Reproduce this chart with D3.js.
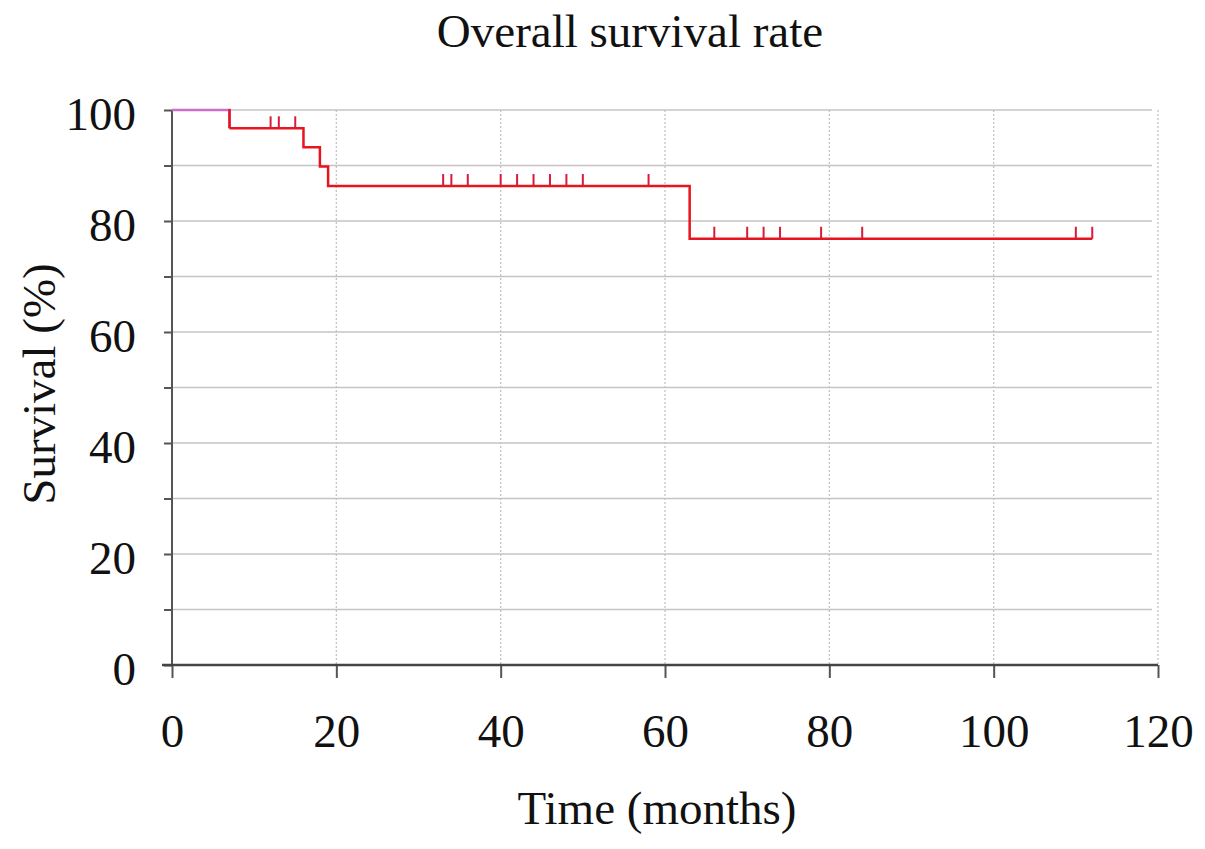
<!DOCTYPE html>
<html>
<head>
<meta charset="utf-8">
<script src="https://cdn.jsdelivr.net/npm/d3@7"></script>
<style>
  body { margin: 0; background: #fff; }
  text { font-family: "Liberation Serif", "Times New Roman", serif; fill: #111; }
</style>
</head>
<body>
<svg id="chart" width="1205" height="849"></svg>
<script>
// step curve: time where each level starts, and the survival level (%)
const stepTimes = [0, 7, 16, 18, 19, 63];
const survival = [100, 96.7, 93.3, 89.8, 86.3, 76.8];
const endTime = 112;
// censored observations (months)
const censorTimes = [12, 13, 15, 33, 34, 36, 40, 42, 44, 46, 48, 50, 58, 66, 70, 72, 74, 79, 84, 110, 112];
const xTicks = [0, 20, 40, 60, 80, 100, 120];
const yTicks = [0, 10, 20, 30, 40, 50, 60, 70, 80, 90, 100];

const svg = d3.select("svg#chart");
const mLeft = 172, mRight = 1158, mTop = 110, mBottom = 665;

const x = d3.scaleLinear().domain([0, 120]).range([mLeft, mRight]);
const y = d3.scaleLinear().domain([0, 100]).range([mBottom, mTop]);

// horizontal grid, solid
svg.append("g")
  .selectAll("line")
  .data(yTicks.filter(d => d > 0))
  .join("line")
  .attr("x1", mLeft).attr("x2", mRight - 6)
  .attr("y1", d => y(d)).attr("y2", d => y(d))
  .attr("stroke", "#c4c4c4").attr("stroke-width", 1.5);

// vertical grid, dotted
svg.append("g")
  .selectAll("line")
  .data(xTicks.filter(d => d > 0))
  .join("line")
  .attr("x1", d => x(d)).attr("x2", d => x(d))
  .attr("y1", mTop).attr("y2", mBottom)
  .attr("stroke", "#c4c4c4").attr("stroke-width", 1.3)
  .attr("stroke-dasharray", "2,2");

// axes
const yAxis = svg.append("g")
  .attr("transform", `translate(${mLeft},0)`)
  .call(d3.axisLeft(y).tickValues(yTicks).tickSize(8).tickPadding(28)
    .tickFormat(d => d % 20 === 0 ? d : ""));
const xAxis = svg.append("g")
  .attr("transform", `translate(0,${mBottom})`)
  .call(d3.axisBottom(x).tickValues(xTicks).tickSize(13).tickPadding(36));

[xAxis, yAxis].forEach(g => {
  g.select(".domain").remove();
  g.selectAll(".tick line").attr("stroke", "#555").attr("stroke-width", 2);
  g.selectAll("text").style("font-size", "47px").attr("fill", "#111");
});
yAxis.selectAll("text").attr("dy", "0.42em");

svg.append("line")
  .attr("x1", mLeft).attr("x2", mLeft).attr("y1", mTop).attr("y2", mBottom)
  .attr("stroke", "#555").attr("stroke-width", 2);
svg.append("line")
  .attr("x1", mLeft - 10).attr("x2", mRight).attr("y1", mBottom).attr("y2", mBottom)
  .attr("stroke", "#444").attr("stroke-width", 2.5);

// survival curve
const pts = stepTimes.map((t, i) => [t, survival[i]]);
pts.push([endTime, survival[survival.length - 1]]);

const line = d3.line()
  .x(d => x(d[0]))
  .y(d => y(d[1]))
  .curve(d3.curveStepAfter);

// first flat part looks pinkish in the original
svg.append("path")
  .datum(pts.slice(0, 2))
  .attr("d", line)
  .attr("fill", "none")
  .attr("stroke", "#cc6fc8")
  .attr("stroke-width", 2.5);

svg.append("line")
  .attr("x1", x(stepTimes[1])).attr("x2", x(stepTimes[1]))
  .attr("y1", y(survival[0]) - 1).attr("y2", y(survival[1]))
  .attr("stroke", "#e8141e").attr("stroke-width", 2.5);

svg.append("path")
  .datum(pts.slice(1))
  .attr("d", line)
  .attr("fill", "none")
  .attr("stroke", "#e8141e")
  .attr("stroke-width", 2.5);

function levelAt(t) {
  let v = survival[0];
  stepTimes.forEach((s, i) => { if (t >= s) v = survival[i]; });
  return v;
}

// censor marks
svg.append("g")
  .selectAll("line")
  .data(censorTimes)
  .join("line")
  .attr("x1", d => x(d)).attr("x2", d => x(d))
  .attr("y1", d => y(levelAt(d)))
  .attr("y2", d => y(levelAt(d)) - 12)
  .attr("stroke", "#d81b3a")
  .attr("stroke-width", 2);

// titles
svg.append("text")
  .attr("x", 630).attr("y", 47)
  .attr("text-anchor", "middle")
  .style("font-size", "47px")
  .text("Overall survival rate");

svg.append("text")
  .attr("x", 657).attr("y", 824)
  .attr("text-anchor", "middle")
  .style("font-size", "47px")
  .text("Time (months)");

svg.append("text")
  .attr("transform", "translate(55,384) rotate(-90)")
  .attr("text-anchor", "middle")
  .style("font-size", "47px")
  .text("Survival (%)");
</script>
</body>
</html>
